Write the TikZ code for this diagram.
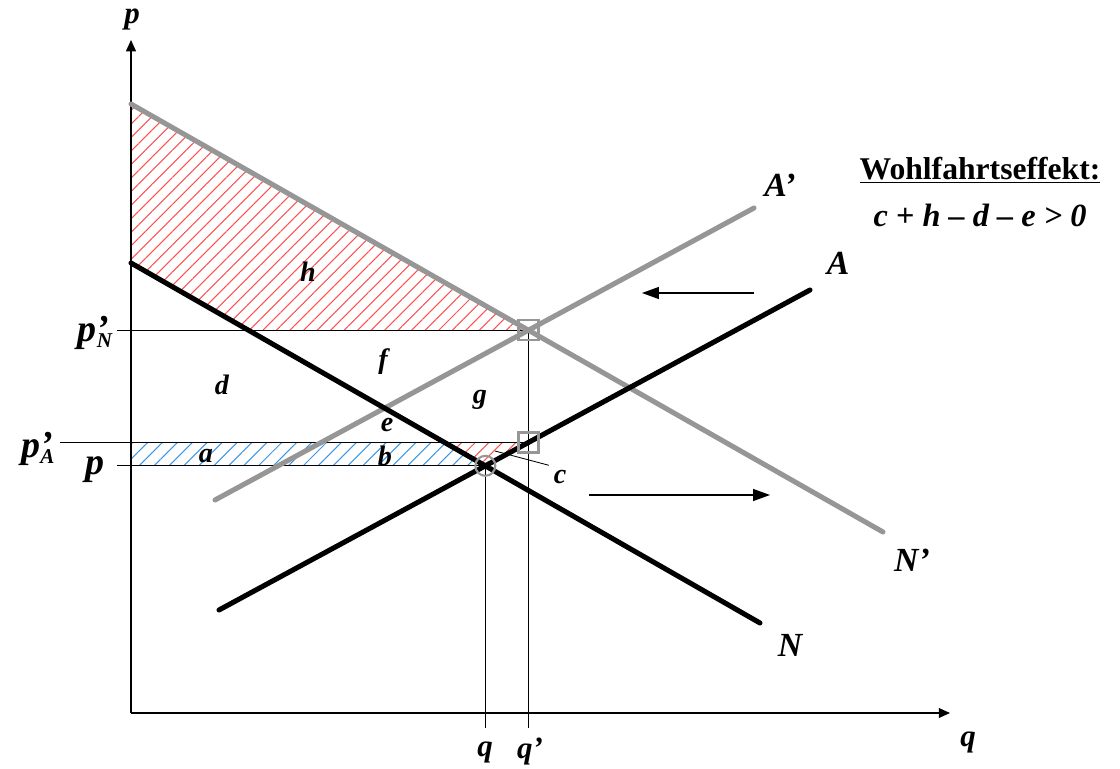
\documentclass[tikz,border=0pt]{standalone}
\usepackage{fontspec}
\setmainfont{Liberation Serif}
\definecolor{curvegray}{RGB}{150,150,150}
\definecolor{hatchred}{RGB}{255,80,80}
\definecolor{hatchblue}{RGB}{60,150,230}
\usetikzlibrary{arrows.meta,patterns.meta,calc}

\newcommand{\lblfont}[1]{\fontsize{#1}{#1}\selectfont\bfseries\itshape}
\newcommand{\pricesub}[1]{p\rlap{’}\raisebox{-4pt}{\fontsize{15}{15}\selectfont #1}}

\begin{document}
\begin{tikzpicture}[x=0.025cm, y=-0.025cm,
    curve/.style={line width=3.6pt, line cap=round},
    guide/.style={line width=0.9pt},
    marker/.style={curvegray, line width=1.5pt},
    big/.style={font=\lblfont{24}},
    area/.style={font=\lblfont{20}},
    axislbl/.style={font=\lblfont{22}},
    redhatch/.style={pattern={Lines[angle=45,distance=6.8pt,line width=0.75pt]}, pattern color=hatchred},
    bluehatch/.style={pattern={Lines[angle=45,distance=7.5pt,line width=0.75pt]}, pattern color=hatchblue},
    shiftarrow/.style={line width=0.9pt, -{Triangle[length=12pt,width=8.5pt]}}]
  \useasboundingbox (0,0) rectangle (1120,769);
  % curve end points
  \coordinate (N0) at (131,263);  \coordinate (N1) at (760,623);
  \coordinate (Nn0) at (131,104); \coordinate (Nn1) at (883,532);
  \coordinate (A0) at (219,610);  \coordinate (A1) at (810,290);
  \coordinate (An0) at (215,500); \coordinate (An1) at (754,208);
  % axes
  \coordinate (O) at (131,713); \coordinate (ytip) at (131,40); \coordinate (xtip) at (950,713);
  \coordinate (tickl) at (117,0); \coordinate (tickll) at (60,0); \coordinate (tickb) at (0,728);
  % equilibria
  \coordinate (E) at (intersection of N0--N1 and A0--A1);
  \coordinate (En) at (intersection of Nn0--Nn1 and An0--An1);
  \coordinate (Eb) at (E |- tickb);
  \coordinate (Enb) at (En |- tickb);
  \coordinate (PA) at (intersection of A0--A1 and En--Enb);
  \coordinate (pNl) at (En -| tickl);
  \coordinate (pAl) at (PA -| tickll);
  \coordinate (pl) at (E -| tickl);
  \coordinate (NpN) at (intersection of N0--N1 and pNl--En);
  \coordinate (NpA) at (intersection of N0--N1 and pAl--PA);

  % hatched areas
  \fill[redhatch] (Nn0) -- (En) -- (NpN) -- (N0) -- cycle;
  \fill[bluehatch] (PA -| O) -- (NpA) -- (E) -- (E -| O) -- cycle;
  \fill[redhatch] (NpA) -- (PA) -- (E) -- cycle;

  % guide lines
  \draw[guide] (pNl) -- (En);
  \draw[guide] (pAl) -- (PA);
  \draw[guide] (pl) -- (E);
  \draw[guide] (E) -- (Eb);
  \draw[guide] (En) -- (Enb);
  \draw[guide, -{Triangle[length=8pt,width=7pt]}] (O) -- (ytip);
  \draw[guide, -{Triangle[length=8pt,width=7pt]}] (O) -- (xtip);

  % curves
  \draw[curve, curvegray] (Nn0) -- (Nn1);
  \draw[curve, curvegray] (An0) -- (An1);
  \draw[curve] (N0) -- (N1);
  \draw[curve] (A0) -- (A1);

  % markers
  \draw[marker] (E) circle (10);
  \draw[marker] ($(En)+(-10,-10)$) rectangle ($(En)+(10,10)$);
  \draw[marker] ($(PA)+(-10,-10)$) rectangle ($(PA)+(10,10)$);

  % shift arrows
  \coordinate (sa0) at (754,293); \coordinate (sa1) at (642,293);
  \coordinate (sn0) at (589,495); \coordinate (sn1) at (770,495);
  \draw[shiftarrow] (sa0) -- (sa1);
  \draw[shiftarrow] (sn0) -- (sn1);

  % labels
  \node[axislbl] (lblp) at (132,20) {p};
  \node[axislbl] (lblq) at (968,742) {q};
  \node[axislbl] (lblqe) at (485,752) {q};
  \node[axislbl] (lblqn) at (530,752) {q’};
  \node[big, font=\lblfont{27}] (lblpN) at (95,333) {\pricesub{N}};
  \node[big, font=\lblfont{27}] (lblpA) at (38,449) {\pricesub{A}};
  \node[big, font=\lblfont{27}] (lblpe) at (95,470) {p};
  \node[big] (lblNn) at (912,560) {N’};
  \node[big] (lblN) at (790,645) {N};
  \node[big] (lblAn) at (780,185) {A’};
  \node[big] (lblA) at (838,263) {A};
  \node[area] (lblh) at (308,272) {h};
  \node[area] (lblf) at (383,362) {f};
  \node[area] (lbld) at (222,385) {d};
  \node[area] (lblg) at (480,400) {g};
  \node[area] (lble) at (387,425) {e};
  \node[area] (lbla) at (206,456) {a};
  \node[area] (lblb) at (385,456) {b};
  \node[area] (lblc) at (560,477) {c};
  \coordinate (cpt) at (495,451);
  \draw[line width=0.6pt] (cpt) -- (lblc.north west);
  \node[font=\fontsize{22.5}{26}\selectfont\bfseries] (title) at (980,170) {\underline{Wohlfahrtseffekt:}};
  \node[font=\lblfont{23}] (effect) at (980,215) {c + h – d – e > 0};
\end{tikzpicture}
\end{document}
